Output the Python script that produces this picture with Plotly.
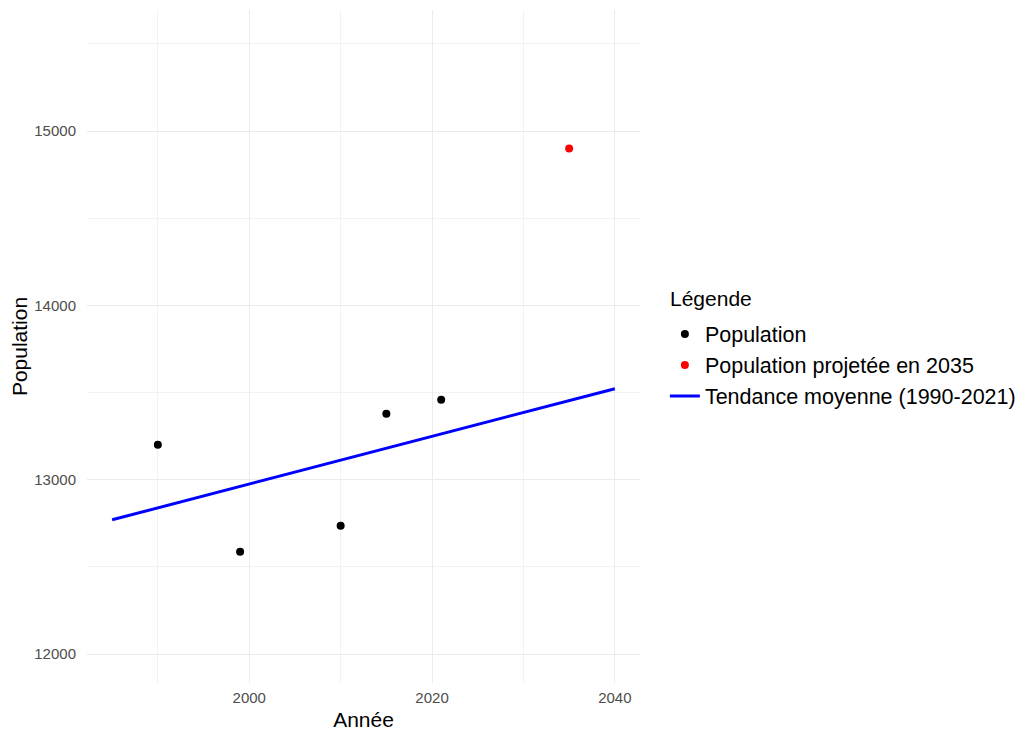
import plotly.graph_objects as go

# Data
years = [1990, 1999, 2010, 2015, 2021]
population = [13200, 12587, 12736, 13379, 13459]
proj_year = [2035]
proj_population = [14900]
trend_years = [1985, 2040]
trend_values = [12770, 13522]

FONT = "Liberation Sans, Arial, sans-serif"

fig = go.Figure()
fig.add_trace(go.Scatter(
    x=years, y=population, mode="markers", name="Population",
    marker=dict(color="black", size=8), legendgroup="a"))
fig.add_trace(go.Scatter(
    x=proj_year, y=proj_population, mode="markers", name="Population projetée en 2035",
    marker=dict(color="red", size=8), legendgroup="b"))
fig.add_trace(go.Scatter(
    x=trend_years, y=trend_values, mode="lines", name="Tendance moyenne (1990-2021)",
    line=dict(color="blue", width=3), legendgroup="c"))

grid = "#ebebeb"
fig.update_layout(
    width=1017, height=723,
    margin=dict(l=79, r=385, t=2, b=48),
    paper_bgcolor="white", plot_bgcolor="white",
    font=dict(family=FONT, color="black"),
    showlegend=True,
    legend=dict(
        font=dict(size=21.5, color="black"),
        x=1.045, xanchor="left", y=0.4725, yanchor="middle",
        tracegroupgap=0, bgcolor="rgba(0,0,0,0)"),
    annotations=[dict(
        text="Légende", xref="paper", yref="paper", x=1.0506, y=0.572,
        xanchor="left", yanchor="middle", showarrow=False,
        font=dict(size=21, color="black"))],
    xaxis=dict(
        range=[1982.25, 2042.75], tick0=2000, dtick=20, automargin=False,
        showgrid=True, gridcolor=grid, gridwidth=1.2, zeroline=False, showline=False,
        ticks="outside", ticklen=1, tickcolor="rgba(0,0,0,0)",
        tickfont=dict(size=15, color="#4d4d4d"),
        title=dict(text="Année", font=dict(size=21, color="black"), standoff=8),
        minor=dict(dtick=10, tick0=2000, showgrid=True, gridcolor="#f2f2f2", gridwidth=1),
    ),
    yaxis=dict(
        range=[11834, 15694], tick0=12000, dtick=1000, tickformat="d", automargin=False,
        showgrid=True, gridcolor=grid, gridwidth=1.2, zeroline=False, showline=False,
        ticks="outside", ticklen=7, tickcolor="rgba(0,0,0,0)",
        tickfont=dict(size=15, color="#4d4d4d"),
        title=dict(text="Population", font=dict(size=21, color="black"), standoff=10),
        minor=dict(dtick=500, tick0=12000, showgrid=True, gridcolor="#f2f2f2", gridwidth=1),
    ),
)

fig.write_html("out.html")
